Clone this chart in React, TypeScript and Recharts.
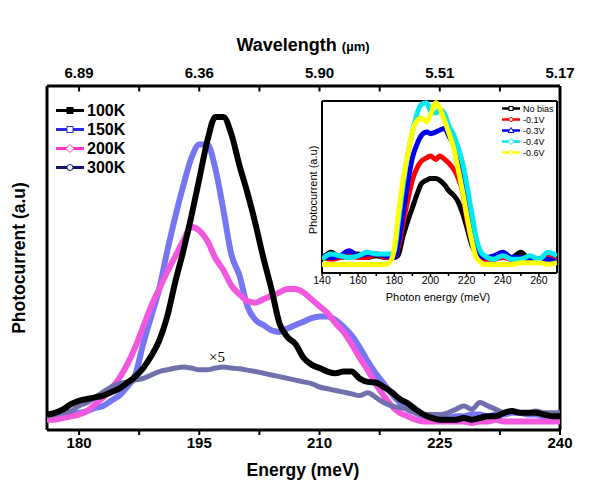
import React from "react";
import { LineChart, Line, XAxis, YAxis, ReferenceLine } from "recharts";

const font = "Arial, 'Liberation Sans', sans-serif";

// main panel: photocurrent vs energy (meV), one value per meV from 176 to 240
const energy = [
  176, 177, 178, 179, 180, 181, 182, 183, 184, 185, 186, 187, 188, 189, 190, 191, 192, 193, 194, 195, 196, 197,
  198, 199, 200, 201, 202, 203, 204, 205, 206, 207, 208, 209, 210, 211, 212, 213, 214, 215, 216, 217, 218, 219,
  220, 221, 222, 223, 224, 225, 226, 227, 228, 229, 230, 231, 232, 233, 234, 235, 236, 237, 238, 239, 240,
];
const k100 = [
  4.5, 5, 6, 7.5, 8.5, 9, 9.5, 10, 11, 12, 13.7, 15.5, 18, 21.5, 26, 33, 43, 52, 62, 73, 84, 91,
  91, 86, 77, 69, 60, 50, 41, 31, 27, 25, 21, 19, 18, 17, 16.5, 17, 17, 15, 14, 13.8, 12.5, 11,
  9, 7.8, 6, 4.5, 3.5, 3, 3, 3, 3.5, 3, 3.5, 4, 4, 5, 5.5, 5, 5, 5, 4.5, 4, 4,
];
const k150 = [
  4, 4.5, 4.5, 5, 5, 5.5, 6.4, 7, 8.5, 10, 12.5, 16, 25, 33, 41, 52, 62, 71, 79, 83, 83, 76,
  64, 51, 45, 36, 32, 30.5, 29, 28.5, 29.5, 30.5, 31.5, 32.5, 33, 33, 32, 30, 27.5, 24, 20, 16.5, 13.5, 10.5,
  8, 6, 5, 4, 3.5, 3.5, 3.5, 4, 4, 4.5, 4.5, 4, 4.5, 4.5, 5, 5, 4.5, 4.5, 4, 4, 4,
];
const k200 = [
  3, 3, 3.5, 4, 4.5, 5.5, 7.5, 9.5, 12, 15, 19, 24, 30, 36, 41, 46, 50.5, 55, 59, 58, 55, 50,
  46.5, 42, 39.5, 37.5, 37, 38, 39, 40, 41, 41, 40, 38, 36, 34, 31, 28.5, 25, 21, 17.5, 13.5, 10, 7,
  5, 4, 3, 2.5, 2.5, 2.5, 2.5, 2.5, 2.5, 2, 2.5, 2.5, 3, 2.5, 2.5, 2.5, 2.5, 2.5, 2.5, 2.5, 2.5,
];
const k300 = [
  4, 4.5, 5, 5.5, 7, 8, 9.5, 11, 12.5, 13.5, 14, 14.5, 15, 16, 17, 17.5, 18, 18.3, 18, 17.5, 17.5, 18,
  18.3, 18, 17.8, 17.4, 17, 16.5, 16, 15.5, 15, 14.5, 14, 13.5, 12.5, 12, 11.5, 11, 10.5, 10, 10.8, 9.5, 8, 7,
  6.5, 6, 5, 4.5, 4.5, 4.5, 5, 6, 7, 6, 8, 7, 6, 5, 5.5, 5, 5, 5.5, 5, 5, 5,
];

const energyTicks = [180, 187.5, 195, 202.5, 210, 217.5, 225, 232.5, 240];
const energyLabels = ["180", "", "195", "", "210", "", "225", "", "240"];
const wavelengthLabels = ["6.89", "", "6.36", "", "5.90", "", "5.51", "", "5.17"];

// inset: photocurrent vs photon energy for several biases
const insetEnergy = [
  140, 145, 150, 155, 160, 165, 170, 175, 178, 180, 182, 185, 188, 190, 193, 195, 198, 200, 203,
  205, 208, 210, 213, 215, 218, 220, 223, 225, 228, 230, 235, 240, 245, 250, 255, 260, 265, 270,
];
const noBias = [
  8, 12, 9, 10, 11, 9, 10, 9, 9, 9, 10, 22, 32, 38, 47, 52, 54, 55, 55,
  54, 51, 48, 45, 42, 34, 27, 16, 12, 10, 9, 9, 10, 9, 12, 8, 8, 9, 7,
];
const bias01 = [
  9, 8, 9, 10, 9, 9, 11, 9, 9, 9, 14, 30, 45, 54, 62, 65, 67, 68, 66,
  68, 66, 64, 60, 56, 46, 32, 18, 12, 9, 8, 8, 9, 8, 9, 7, 8, 9, 7,
];
const bias03 = [
  10, 9, 10, 13, 10, 11, 11, 10, 9, 9, 16, 36, 56, 67, 76, 80, 82, 81, 82,
  83, 84, 80, 74, 68, 56, 44, 26, 16, 10, 9, 10, 12, 9, 9, 7, 8, 8, 6,
];
const bias04 = [
  8, 11, 10, 9, 10, 12, 11, 11, 11, 13, 28, 52, 72, 82, 94, 98, 99, 94, 93,
  95, 92, 86, 80, 74, 63, 52, 34, 22, 12, 10, 8, 10, 8, 8, 10, 8, 12, 10,
];
const bias06 = [
  5, 5, 5, 5, 5, 5, 5, 5, 7, 14, 32, 55, 72, 82, 89, 90, 88, 92, 99,
  96, 88, 82, 72, 62, 46, 34, 18, 10, 6, 5, 5, 5, 5, 6, 6, 6, 5, 6,
];
const insetTicks = [140, 150, 160, 170, 180, 190, 200, 210, 220, 230, 240, 250, 260];

const mainData = energy.map((e, i) => ({ e, k100: k100[i], k150: k150[i], k200: k200[i], k300: k300[i] }));
const insetData = insetEnergy.map((e, i) => ({
  e, b0: noBias[i], b1: bias01[i], b3: bias03[i], b4: bias04[i], b6: bias06[i],
}));

const mainLegend = [
  { name: "100K", color: "#000", shape: "filledSquare" },
  { name: "150K", color: "#2a2ae0", shape: "square" },
  { name: "200K", color: "#ff33cc", shape: "diamond" },
  { name: "300K", color: "#14146e", shape: "circle" },
];
const insetLegend = [
  { name: "No bias", color: "#000", shape: "square" },
  { name: "-0.1V", color: "#ff0000", shape: "circle" },
  { name: "-0.3V", color: "#0000ee", shape: "triangle" },
  { name: "-0.4V", color: "#00e5ee", shape: "diamond" },
  { name: "-0.6V", color: "#ffff00", shape: "circle" },
];

function Marker({ shape, color, cx, cy, r }: { shape: string; color: string; cx: number; cy: number; r: number }) {
  const fill = shape === "filledSquare" ? color : "#fff";
  if (shape === "square" || shape === "filledSquare")
    return <rect x={cx - r} y={cy - r} width={2 * r} height={2 * r} fill={fill} stroke={color} strokeWidth={1} />;
  if (shape === "diamond")
    return <polygon points={`${cx},${cy - r - 1} ${cx + r + 1},${cy} ${cx},${cy + r + 1} ${cx - r - 1},${cy}`} fill={fill} stroke={color} strokeWidth={1} />;
  if (shape === "triangle")
    return <polygon points={`${cx},${cy - r - 1} ${cx + r + 1},${cy + r} ${cx - r - 1},${cy + r}`} fill={fill} stroke={color} strokeWidth={1} />;
  return <circle cx={cx} cy={cy} r={r} fill={fill} stroke={color} strokeWidth={1} />;
}

function LegendBox({ items, left, top, rowH, lineW, stroke, r, fontSize, bold }: any) {
  return (
    <div style={{ position: "absolute", left, top, fontFamily: font, fontSize, fontWeight: bold ? "bold" : "normal" }}>
      {items.map((it: any) => (
        <div key={it.name} style={{ display: "flex", alignItems: "center", height: rowH, whiteSpace: "nowrap" }}>
          <svg width={lineW} height={rowH} style={{ marginRight: 3 }}>
            <line x1={0} x2={lineW} y1={rowH / 2} y2={rowH / 2} stroke={it.color} strokeWidth={stroke} />
            <Marker shape={it.shape} color={it.color} cx={lineW / 2} cy={rowH / 2} r={r} />
          </svg>
          <span>{it.name}</span>
        </div>
      ))}
    </div>
  );
}

const abs = (left: number, top: number, extra: any = {}) => ({
  position: "absolute" as const, left, top, transform: "translate(-50%, -50%)", whiteSpace: "nowrap" as const,
  fontFamily: font, color: "#000", ...extra,
});

export default function App() {
  const bigTick = { fill: "#000", fontSize: 15, fontWeight: "bold", fontFamily: font };
  const frame = { stroke: "#000", strokeWidth: 3 };
  return (
    <div style={{ position: "absolute", left: 0, top: 0, width: 600, height: 480, background: "#fff", overflow: "hidden" }}>
      <LineChart width={600} height={480} data={mainData} margin={{ top: 56, right: 40, bottom: 20, left: 47 }}>
        <XAxis
          dataKey="e" type="number" domain={[176, 240]} allowDataOverflow ticks={energyTicks} interval={0}
          height={30} tickSize={5} tickMargin={2} axisLine={frame} tickLine={{ stroke: "#000", strokeWidth: 2 }}
          tick={bigTick} tickFormatter={(v: number) => energyLabels[energyTicks.indexOf(v)] ?? ""}
        />
        <XAxis
          xAxisId="top" orientation="top" dataKey="e" type="number" domain={[176, 240]} allowDataOverflow
          ticks={energyTicks} interval={0} height={30} tickSize={6} tickMargin={2} axisLine={false} tickLine={false}
          tick={bigTick} tickFormatter={(v: number) => wavelengthLabels[energyTicks.indexOf(v)] ?? ""}
        />
        <YAxis domain={[0, 100]} type="number" hide />
        {/* frame: top, left and right borders */}
        <ReferenceLine y={100} stroke="#000" strokeWidth={3} />
        <ReferenceLine x={176} stroke="#000" strokeWidth={3} />
        <ReferenceLine x={240} stroke="#000" strokeWidth={3} />
        {/* inward ticks on the top axis */}
        {energyTicks.map((t) => (
          <ReferenceLine key={t} segment={[{ x: t, y: 100 }, { x: t, y: 98.4 }]} stroke="#000" strokeWidth={2} />
        ))}
        <Line dataKey="k150" type="monotone" stroke="#7676f2" strokeWidth={6} dot={false} activeDot={false} isAnimationActive={false} />
        <Line dataKey="k200" type="monotone" stroke="#f258de" strokeWidth={6} dot={false} activeDot={false} isAnimationActive={false} />
        <Line dataKey="k300" type="monotone" stroke="#7070ac" strokeWidth={5} dot={false} activeDot={false} isAnimationActive={false} />
        <Line dataKey="k100" type="monotone" stroke="#000" strokeWidth={6} dot={false} activeDot={false} isAnimationActive={false} />
      </LineChart>

      <div style={{ position: "absolute", left: 300, top: 80 }}>
        <LineChart width={290} height={215} data={insetData} margin={{ top: 21, right: 33, bottom: 2, left: 22 }}>
          <XAxis
            dataKey="e" type="number" domain={[140, 270]} allowDataOverflow ticks={insetTicks} interval={0}
            height={20} tickSize={3} tickMargin={1} axisLine={{ stroke: "#000", strokeWidth: 2 }}
            tickLine={{ stroke: "#000", strokeWidth: 1.5 }}
            tick={{ fill: "#000", fontSize: 10.5, fontFamily: font }}
            tickFormatter={(v: number) => (v % 20 === 0 ? String(v) : "")}
          />
          <YAxis domain={[0, 100]} type="number" hide />
          <ReferenceLine y={100} stroke="#000" strokeWidth={2} />
          <ReferenceLine x={140} stroke="#000" strokeWidth={2} />
          <ReferenceLine x={270} stroke="#000" strokeWidth={2} />
          <Line dataKey="b0" type="monotone" stroke="#000" strokeWidth={5} dot={false} activeDot={false} isAnimationActive={false} />
          <Line dataKey="b1" type="monotone" stroke="#ff0000" strokeWidth={5} dot={false} activeDot={false} isAnimationActive={false} />
          <Line dataKey="b3" type="monotone" stroke="#0000ee" strokeWidth={5} dot={false} activeDot={false} isAnimationActive={false} />
          <Line dataKey="b4" type="monotone" stroke="#00e8f0" strokeWidth={5} dot={false} activeDot={false} isAnimationActive={false} />
          <Line dataKey="b6" type="monotone" stroke="#ffff00" strokeWidth={5} dot={false} activeDot={false} isAnimationActive={false} />
        </LineChart>
      </div>

      <LegendBox items={mainLegend} left={56} top={101} rowH={19} lineW={28} stroke={3} r={3} fontSize={16} bold />
      <LegendBox items={insetLegend} left={502} top={103} rowH={11} lineW={18} stroke={2.5} r={2} fontSize={9} />

      <div style={abs(303, 45, { fontSize: 18, fontWeight: "bold" })}>
        Wavelength <span style={{ fontSize: 13 }}>(µm)</span>
      </div>
      <div style={abs(303, 470, { fontSize: 17.5, fontWeight: "bold" })}>Energy (meV)</div>
      <div style={abs(19, 258, { fontSize: 17.5, fontWeight: "bold", transform: "translate(-50%, -50%) rotate(-90deg)" })}>
        Photocurrent (a.u)
      </div>
      <div style={abs(313, 190, { fontSize: 11, transform: "translate(-50%, -50%) rotate(-90deg)" })}>Photocurrent (a.u)</div>
      <div style={abs(438, 297, { fontSize: 11 })}>Photon energy (meV)</div>
      <div style={abs(217, 357, { fontSize: 15, fontFamily: "'Liberation Serif', 'DejaVu Serif', serif" })}>×5</div>
    </div>
  );
}
